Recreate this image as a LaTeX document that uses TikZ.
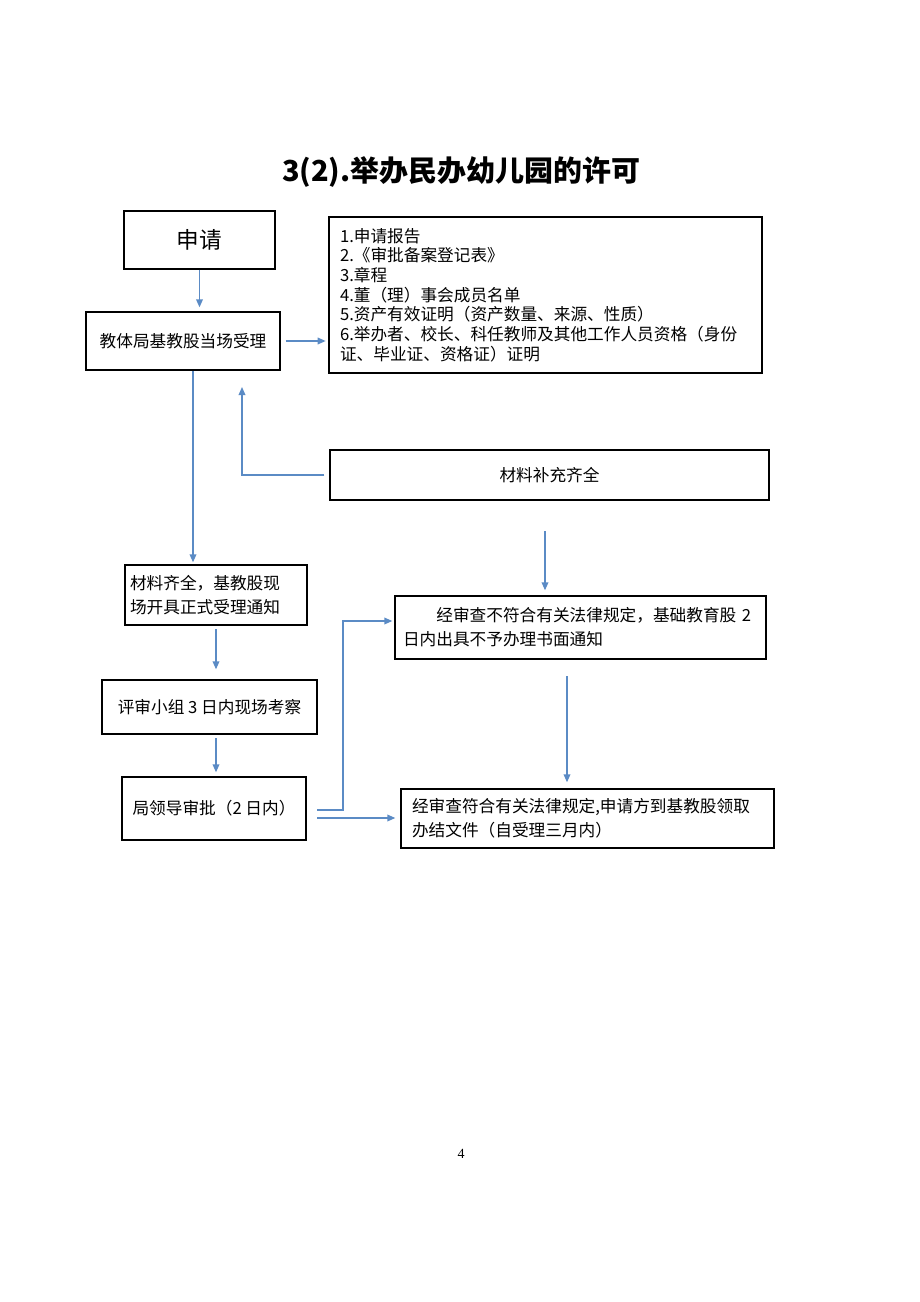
\documentclass[tikz,border=0pt]{standalone}
\usepackage{fontspec}
\setmainfont{Liberation Serif}
\newfontfamily\cjk{Noto Sans CJK SC}
\usetikzlibrary{arrows.meta}
\definecolor{ln}{RGB}{91,139,197}
\begin{document}
\begin{tikzpicture}[x=0.75pt,y=-0.75pt,
  box/.style={draw=black, line width=1pt, inner sep=0pt, font=\cjk\fontsize{12.5}{18}\selectfont},
  arr/.style={draw=ln, line width=1pt, -{Triangle[length=6pt,width=5pt]}}]
\useasboundingbox (0,0) rectangle (920,1302);

\node[font=\cjk\bfseries\fontsize{21.7}{26}\selectfont] (title) at (461,172) {3(2).举办民办幼儿园的许可};

\node[box, minimum width=113.25pt, minimum height=43.5pt, font=\cjk\fontsize{17}{20}\selectfont] (sq) at (199.5,240) {申请};
\node[box, minimum width=145.5pt, minimum height=43.5pt] (acc) at (183,341) {教体局基教股当场受理};
\node[box, minimum width=324.75pt, minimum height=117pt, inner xsep=8.25pt, text width=308.25pt, align=left, font=\cjk\fontsize{12.5}{14.8}\selectfont] (list) at (545.5,295) {1.申请报告\\2.《审批备案登记表》\\3.章程\\4.董（理）事会成员名单\\5.资产有效证明（资产数量、来源、性质）\\6.举办者、校长、科任教师及其他工作人员资格（身份\\证、毕业证、资格证）证明};
\node[box, minimum width=329.25pt, minimum height=37.5pt] (bc) at (549.5,475) {材料补充齐全};
\node[box, minimum width=136.5pt, minimum height=45pt, inner xsep=3.75pt, text width=129pt, align=left] (qq) at (216,595) {材料齐全，基教股现\\场开具正式受理通知};
\node[box, minimum width=278.25pt, minimum height=47.25pt, inner xsep=6pt, text width=266.25pt, align=left] (bf) at (580.5,627.5) {\hspace*{2em}经审查不符合有关法律规定，基础教育股 2\\日内出具不予办理书面通知};
\node[box, minimum width=161.25pt, minimum height=40.5pt] (ps) at (209.5,707) {评审小组 3 日内现场考察};
\node[box, minimum width=138pt, minimum height=47.25pt] (ld) at (214,808.5) {局领导审批（2 日内）};
\node[box, minimum width=279.75pt, minimum height=44.25pt, inner xsep=8.25pt, text width=263.25pt, align=left] (fh) at (587.5,818.5) {经审查符合有关法律规定,申请方到基教股领取\\办结文件（自受理三月内）};

\node[font=\fontsize{10.5}{12}\selectfont] (pg) at (461,1154) {4};

\coordinate (c3) at (193,371);
\coordinate (c4) at (242,387);
\coordinate (c5) at (545,531);
\coordinate (c6) at (216,629);
\coordinate (c7) at (216,738);
\coordinate (c8) at (317,810);
\coordinate (c8b) at (343,621);
\coordinate (c9) at (317,818);
\coordinate (c10) at (567,676);

\draw[arr, shorten >=3pt] (sq.south) -- (sq.south |- acc.north);
\draw[arr, shorten <=3.75pt, shorten >=2pt] (acc.east) -- (acc.east -| list.west);
\draw[arr, shorten >=1.5pt] (c3) -- (c3 |- qq.north);
\draw[arr, shorten <=3.75pt] (bc.west) -| (c4);
\draw[arr, shorten >=3.75pt] (c5) -- (c5 |- bf.north);
\draw[arr, shorten >=7.5pt] (c6) -- (c6 |- ps.north);
\draw[arr, shorten >=3pt] (c7) -- (c7 |- ld.north);
\draw[arr, shorten >=1.5pt] (c8) -| (c8b) -- (c8b -| bf.west);
\draw[arr, shorten >=3.75pt] (c9) -- (c9 -| fh.west);
\draw[arr, shorten >=4.5pt] (c10) -- (c10 |- fh.north);
\end{tikzpicture}
\end{document}
